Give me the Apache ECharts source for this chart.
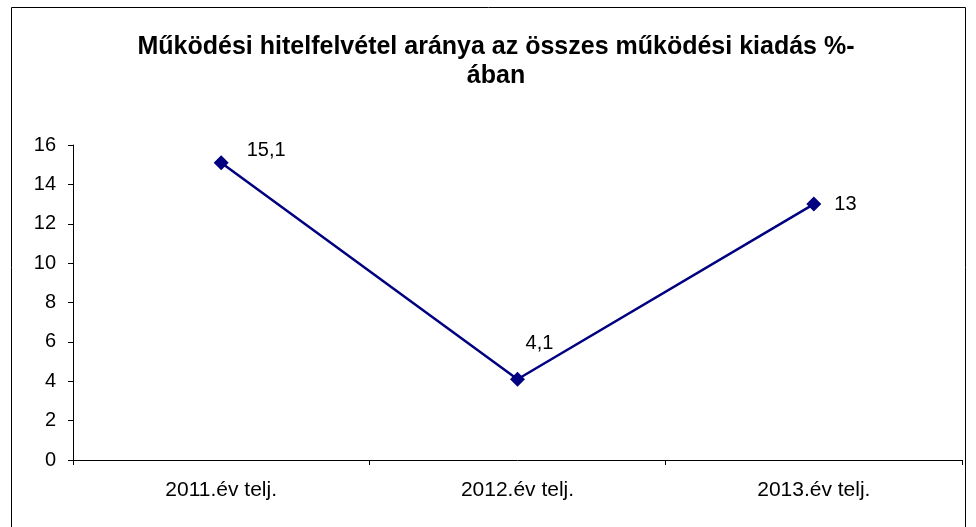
<!DOCTYPE html>
<html>
<head>
<meta charset="utf-8">
<script src="https://cdn.jsdelivr.net/npm/echarts@6/dist/echarts.min.js"></script>
<style>
  html, body { margin: 0; padding: 0; background: #fff; }
  #chart { width: 976px; height: 527px; }
</style>
</head>
<body>
<div id="chart"></div>
<script>
const categories = ["2011.év telj.", "2012.év telj.", "2013.év telj."];
const values = [15.1, 4.1, 13];
const yTicks = [0, 2, 4, 6, 8, 10, 12, 14, 16];

const chart = echarts.init(document.getElementById("chart"));

// label placement per point, like the original
const labelPos = [
  { position: "right", offset: [13, -12] },
  { position: "top", distance: 18, offset: [22, 0] },
  { position: "right", offset: [8, 0] }
];

chart.setOption({
  animation: false,
  title: {
    text: "Működési hitelfelvétel aránya az összes működési kiadás %-\nában",
    left: 491,
    textAlign: "center",
    top: 28,
    textStyle: {
      fontFamily: "Liberation Sans",
      fontSize: 25,
      fontWeight: "bold",
      color: "#000",
      lineHeight: 29
    }
  },
  graphic: [
    {
      type: "rect",
      shape: { x: 11.5, y: 7.5, width: 954, height: 540 },
      style: { fill: "none", stroke: "#000", lineWidth: 1 },
      silent: true
    }
  ],
  grid: { left: 73, right: 14, top: 145, bottom: 67 },
  xAxis: {
    type: "category",
    data: categories,
    boundaryGap: true,
    axisLine: { lineStyle: { color: "#000", width: 1 } },
    axisTick: { show: true, length: 5, lineStyle: { color: "#000" } },
    axisLabel: {
      fontFamily: "Liberation Sans",
      fontSize: 21,
      color: "#000",
      margin: 20
    },
    splitLine: { show: false }
  },
  yAxis: {
    type: "value",
    min: yTicks[0],
    max: yTicks[yTicks.length - 1],
    interval: 2,
    axisLine: { show: true, lineStyle: { color: "#000", width: 1 } },
    axisTick: { show: true, length: 5, lineStyle: { color: "#000" } },
    axisLabel: {
      fontFamily: "Liberation Sans",
      fontSize: 20,
      color: "#000",
      margin: 17
    },
    splitLine: { show: false }
  },
  series: [
    {
      type: "line",
      data: values.map((v, i) => ({
        value: v,
        label: labelPos[i]
      })),
      symbol: "diamond",
      symbolSize: 15,
      lineStyle: { color: "#000080", width: 2.5 },
      itemStyle: { color: "#000080" },
      label: {
        show: true,
        fontFamily: "Liberation Sans",
        fontSize: 20,
        color: "#000",
        formatter: p => String(p.value).replace(".", ",")
      }
    }
  ]
});
</script>
</body>
</html>
